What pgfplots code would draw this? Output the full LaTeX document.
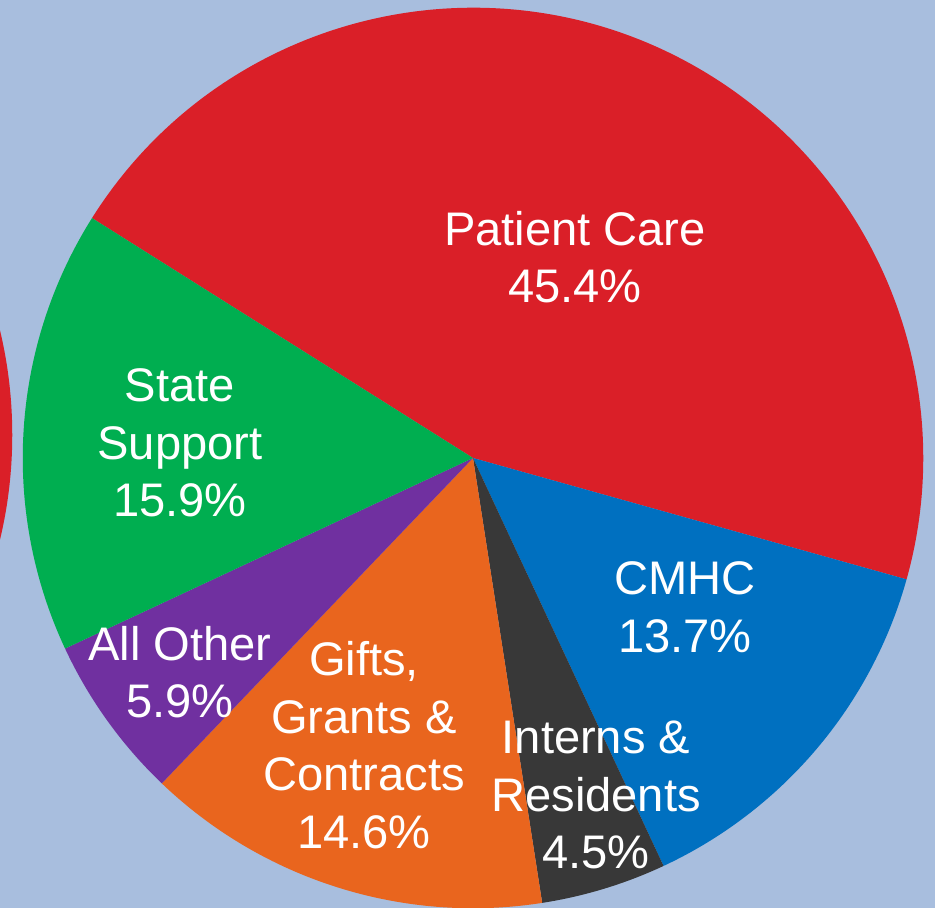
\documentclass[border=0pt]{standalone}
\usepackage{pgfplots}
\pgfplotsset{compat=1.18}
\usepackage{pgfplotstable}
\usepackage{fontspec}
\setmainfont{Liberation Sans}

\definecolor{bgblue}{RGB}{168,190,222}
\definecolor{pcred}{RGB}{218,31,40}
\definecolor{cmblue}{RGB}{0,112,192}
\definecolor{irgray}{RGB}{56,56,56}
\definecolor{ggorange}{RGB}{233,101,30}
\definecolor{aopurple}{RGB}{112,48,160}
\definecolor{ssgreen}{RGB}{0,174,80}

% slices in clockwise order, starting at the Patient Care / State Support edge
\pgfplotstableread[col sep=comma]{
label,value,color
Patient Care,45.4,pcred
CMHC,13.7,cmblue
Interns & Residents,4.5,irgray
Gifts Grants & Contracts,14.6,ggorange
All Other,5.9,aopurple
State Support,15.9,ssgreen
}\piedata

\begin{document}
\begin{tikzpicture}
\begin{axis}[
    x=0.01cm, y=0.01cm,
    xmin=0, xmax=935,
    ymin=0, ymax=908,
    axis lines=none,
    ticks=none,
    clip=true,
]
    \fill[bgblue] (axis cs:0,0) rectangle (axis cs:935,908);
    % edge of the neighbouring pie
    \fill[pcred] (axis cs:-437,473) circle[radius=4.49cm];

    \pgfplotstablegetrowsof{\piedata}
    \pgfmathtruncatemacro{\nrows}{\pgfplotsretval-1}
    \def\startangle{147.8}
    \pgfplotsforeachungrouped \i in {0,...,\nrows}{
        \pgfplotstablegetelem{\i}{value}\of{\piedata}\let\val\pgfplotsretval
        \pgfplotstablegetelem{\i}{color}\of{\piedata}\let\col\pgfplotsretval
        \pgfmathsetmacro{\endangle}{\startangle-3.6*\val}
        \edef\temp{\noexpand\fill[\col] (axis cs:473,450) -- ++(\startangle:4.5cm)
            arc[start angle=\startangle, end angle=\endangle, radius=4.5cm] -- cycle;}
        \temp
        \let\startangle\endangle
    }

    \tikzset{lbl/.style={text=white, align=center, inner sep=0pt,
        font=\fontsize{13.4}{16.4}\selectfont}}
    \node[lbl] at (axis cs:575,651) {Patient Care\\45.4\%};
    \node[lbl] at (axis cs:180,465) {State\\Support\\15.9\%};
    \node[lbl] at (axis cs:685,301) {CMHC\\13.7\%};
    \node[lbl] at (axis cs:180,236) {All Other\\5.9\%};
    \node[lbl] at (axis cs:364,163) {Gifts,\\Grants \&\\Contracts\\14.6\%};
    \node[lbl] at (axis cs:596,113) {Interns \&\\Residents\\4.5\%};
\end{axis}
\pgfresetboundingbox
\useasboundingbox (current axis.south west) rectangle (current axis.north east);
\end{tikzpicture}
\end{document}
